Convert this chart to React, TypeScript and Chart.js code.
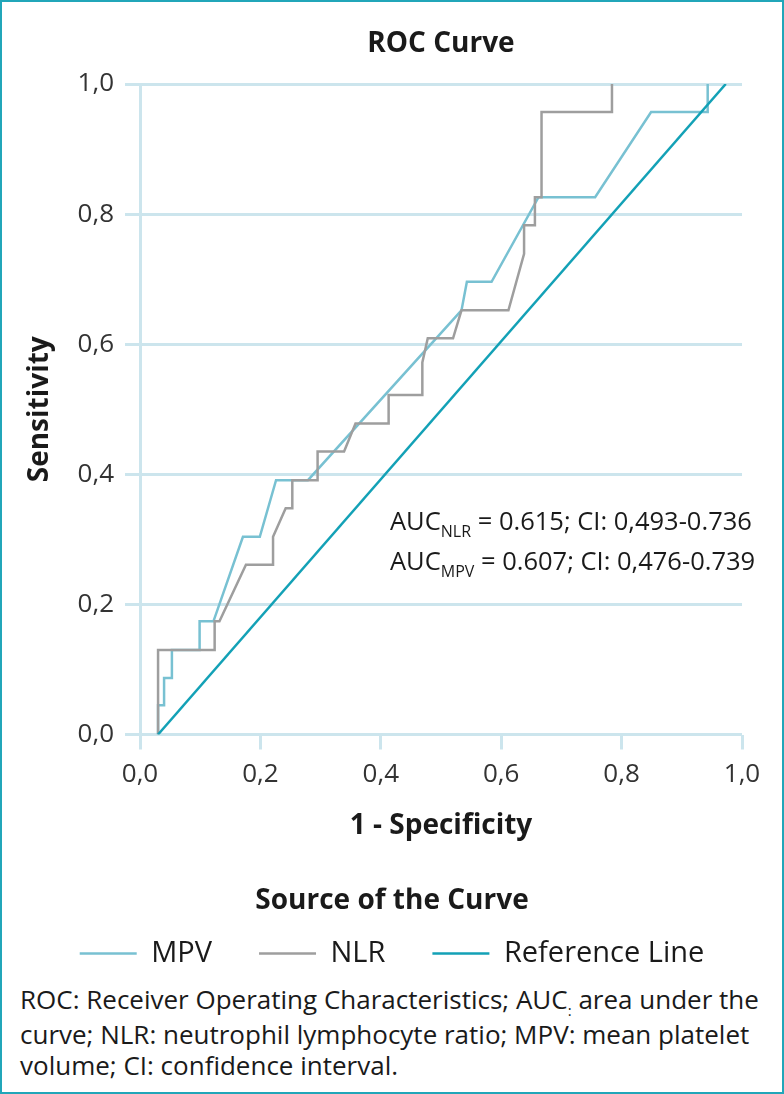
import React, { useEffect, useRef } from 'react';
import { Chart, registerables } from 'chart.js';

Chart.register(...registerables);

// ---- data ----
const seriesNames = ['MPV', 'NLR', 'Reference Line'];

const mpvFpr = [0.03, 0.03, 0.04, 0.04, 0.053, 0.053, 0.099, 0.099, 0.122, 0.171, 0.199, 0.226, 0.279, 0.534, 0.543, 0.584, 0.662, 0.756, 0.849, 0.943, 0.943];
const mpvTpr = [0.0, 0.045, 0.045, 0.087, 0.087, 0.13, 0.13, 0.174, 0.174, 0.304, 0.304, 0.391, 0.391, 0.652, 0.696, 0.696, 0.826, 0.826, 0.957, 0.957, 1.0];

const nlrFpr = [0.03, 0.03, 0.124, 0.124, 0.132, 0.176, 0.221, 0.221, 0.242, 0.253, 0.253, 0.295, 0.295, 0.339, 0.358, 0.413, 0.413, 0.469, 0.469, 0.478, 0.52, 0.534, 0.612, 0.638, 0.638, 0.656, 0.656, 0.667, 0.667, 0.784, 0.784];
const nlrTpr = [0.0, 0.13, 0.13, 0.174, 0.174, 0.261, 0.261, 0.304, 0.348, 0.348, 0.391, 0.391, 0.435, 0.435, 0.478, 0.478, 0.522, 0.522, 0.572, 0.609, 0.609, 0.652, 0.652, 0.739, 0.783, 0.783, 0.826, 0.826, 0.957, 0.957, 1.0];

const refFpr = [0.03, 0.973];
const refTpr = [0.0, 1.0];

const axisTicks = [0, 0.2, 0.4, 0.6, 0.8, 1.0];

const aucLines = [
  { name: 'AUC', sub: 'NLR', rest: ' = 0.615; CI: 0,493-0.736' },
  { name: 'AUC', sub: 'MPV', rest: ' = 0.607; CI: 0,476-0.739' },
];

const legendTitle = 'Source of the Curve';
const chartTitle = 'ROC Curve';
const xTitle = '1 - Specificity';
const yTitle = 'Sensitivity';

// ---- styles ----
const FONT = "'Open Sans', 'Noto Sans', sans-serif";
const GRID = '#cce5ed';
const C_MPV = '#78c1d2';
const C_NLR = '#9e9e9e';
const C_REF = '#13a1b6';
const TXT = '#1a1a1a';

const W = 784;
const H = 978;

const toPts = (xs: number[], ys: number[]) => xs.map((x, i) => ({ x, y: ys[i] }));
const fmt = (v: number) => Number(v).toFixed(1).replace('.', ',');

export default function App() {
  const ref = useRef<HTMLCanvasElement | null>(null);

  useEffect(() => {
    if (!ref.current) return;
    const setTicks = (s: any) => {
      s.ticks = axisTicks.map((v) => ({ value: v }));
    };
    const chart = new Chart(ref.current, {
      type: 'line',
      data: {
        datasets: [
          {
            label: seriesNames[0],
            data: toPts(mpvFpr, mpvTpr),
            borderColor: C_MPV,
            backgroundColor: C_MPV,
            borderWidth: 2.5,
            pointRadius: 0,
            tension: 0,
            order: 2,
          },
          {
            label: seriesNames[1],
            data: toPts(nlrFpr, nlrTpr),
            borderColor: C_NLR,
            backgroundColor: C_NLR,
            borderWidth: 2.5,
            pointRadius: 0,
            tension: 0,
            order: 1,
          },
          {
            label: seriesNames[2],
            data: toPts(refFpr, refTpr),
            borderColor: C_REF,
            backgroundColor: C_REF,
            borderWidth: 2.5,
            pointRadius: 0,
            tension: 0,
            order: 0,
          },
        ],
      },
      options: {
        responsive: false,
        maintainAspectRatio: false,
        animation: false,
        layout: { padding: 0 },
        plugins: {
          tooltip: { enabled: false },
          title: {
            display: true,
            text: chartTitle,
            fullSize: false,
            color: TXT,
            font: { family: FONT, size: 28, weight: 'bold' },
            padding: { top: 27.2, bottom: 23.2 },
          },
          legend: {
            position: 'bottom',
            labels: {
              usePointStyle: true,
              pointStyle: 'line',
              pointStyleWidth: 57,
              padding: 47,
              color: TXT,
              font: { family: FONT, size: 29 },
              sort: (a: any, b: any) => a.datasetIndex - b.datasetIndex,
            },
            title: {
              display: true,
              text: legendTitle,
              color: TXT,
              font: { family: FONT, size: 28, weight: 'bold' },
              padding: { top: 0, bottom: -29.1 },
            },
          },
        },
        scales: {
          x: {
            type: 'linear',
            position: 'bottom',
            min: 0,
            max: 1,
            afterBuildTicks: setTicks,
            afterFit: (s: any) => {
              s.height = 153;
            },
            ticks: {
              color: '#333',
              font: { family: FONT, size: 26 },
              padding: 9.4,
              maxRotation: 0,
              callback: (v: any) => fmt(v),
            },
            grid: {
              drawOnChartArea: false,
              color: GRID,
              lineWidth: 3,
              tickLength: 15,
              tickColor: GRID,
              tickWidth: 3,
            },
            border: { display: false },
            title: {
              display: true,
              text: xTitle,
              color: TXT,
              font: { family: FONT, size: 28, weight: 'bold' },
              padding: { top: 0, bottom: 44.2 },
            },
          },
          y: {
            type: 'linear',
            position: 'left',
            min: 0,
            max: 1,
            afterBuildTicks: setTicks,
            afterFit: (s: any) => {
              s.width = 140;
            },
            ticks: {
              color: '#333',
              font: { family: FONT, size: 26 },
              padding: 11,
              callback: (v: any) => fmt(v),
            },
            grid: {
              color: GRID,
              lineWidth: 3,
              tickLength: 15,
              tickColor: GRID,
              tickWidth: 3,
            },
            border: { display: true, color: GRID, width: 3 },
            title: {
              display: true,
              text: yTitle,
              color: TXT,
              font: { family: FONT, size: 28, weight: 'bold' },
              padding: { top: 23.2, bottom: 0 },
            },
          },
          yRight: {
            type: 'linear',
            position: 'right',
            display: true,
            afterFit: (s: any) => {
              s.width = 42;
            },
            ticks: { display: false },
            grid: { display: false },
            border: { display: false },
          },
        },
      },
    } as any);
    return () => chart.destroy();
  }, []);

  return (
    <div style={{ position: 'absolute', left: 0, top: 0, width: W, height: 1094, background: '#fff', fontFamily: FONT, color: TXT }}>
      <canvas ref={ref} width={W} height={H} style={{ position: 'absolute', left: 0, top: 0, width: W, height: H }} />
      <div style={{ position: 'absolute', left: 390, top: 502, fontSize: 25.5, lineHeight: '36px', whiteSpace: 'nowrap', color: TXT }}>
        {aucLines.map((l, i) => (
          <div key={i}>
            {l.name}
            <span style={{ fontSize: 16, position: 'relative', top: 7 }}>{l.sub}</span>
            {l.rest}
          </div>
        ))}
      </div>
      <div style={{ position: 'absolute', left: 20, top: 984, fontSize: 26, lineHeight: '31px', whiteSpace: 'nowrap', color: TXT }}>
        ROC: Receiver Operating Characteristics; AUC<span style={{ fontSize: 15, position: 'relative', top: 7 }}>:</span> area under the
        <br />
        curve; NLR: neutrophil lymphocyte ratio; MPV: mean platelet
        <br />
        volume; CI: confidence interval.
      </div>
      <div style={{ position: 'absolute', left: 0, top: 0, width: W, height: 1094, boxSizing: 'border-box', border: '2px solid #21a6b9', pointerEvents: 'none' }} />
    </div>
  );
}
